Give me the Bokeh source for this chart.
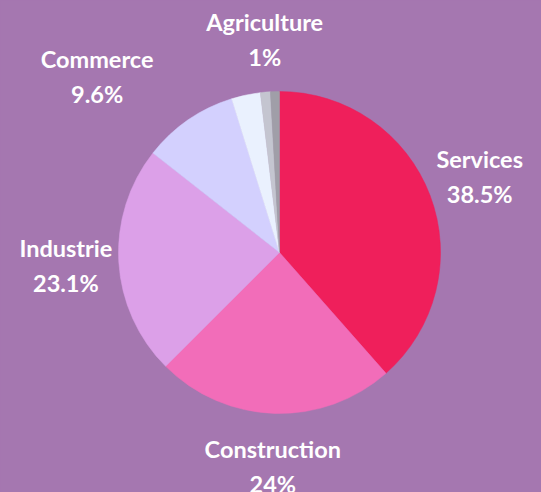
import math
from bokeh.plotting import figure
from bokeh.models import Range1d, ColumnDataSource
from bokeh.core.properties import value
from bokeh.embed import file_html
from bokeh.resources import INLINE

# data
sectors = ["Services", "Construction", "Industrie", "Commerce", "Autre 1", "Agriculture", "Autre 2"]
shares = [38.5, 24.0, 23.1, 9.6, 2.9, 1.0, 0.9]
show_label = [True, True, True, True, False, True, False]
value_labels = ["38.5%", "24%", "23.1%", "9.6%", "2.9%", "1%", "0.9%"]
colors = ["#ef1f5b", "#f26db9", "#dca0e8", "#d3d0fe", "#eaf1fe", "#c4c5d0", "#a09ea8"]

BG = "#a577b0"
W, H = 541, 492
CX, CY = 279, H - 252
R = 161
LABEL_R = 214
LINE_GAP = 17.5
label_dx = {"Commerce": -61, "Agriculture": 4}

p = figure(width=W, height=H, output_backend="svg", toolbar_location=None,
           x_range=Range1d(0, W), y_range=Range1d(0, H),
           background_fill_color=BG, border_fill_color=BG, outline_line_color=None,
           min_border=0)
p.axis.visible = False
p.grid.visible = False

total = sum(shares)
starts, ends = [], []
cum = 0.0
for s in shares:
    starts.append(math.pi / 2 - 2 * math.pi * cum / total)
    cum += s
    ends.append(math.pi / 2 - 2 * math.pi * cum / total)

src = ColumnDataSource(dict(x=[CX] * len(shares), y=[CY] * len(shares),
                            start=starts, end=ends, color=colors))
p.wedge(x="x", y="y", radius=R, start_angle="start", end_angle="end",
        direction="clock", fill_color="color", line_color="color", line_width=0.5,
        source=src)

nx, ny, vx, vy, nt, vt = [], [], [], [], [], []
for i, name in enumerate(sectors):
    if not show_label[i]:
        continue
    mid = (starts[i] + ends[i]) / 2
    lx = CX + LABEL_R * math.cos(mid) + label_dx.get(name, 0)
    ly = CY + LABEL_R * math.sin(mid)
    nx.append(lx); ny.append(ly + LINE_GAP); nt.append(name)
    vx.append(lx); vy.append(ly - LINE_GAP); vt.append(value_labels[i])

for xs, ys, ts in ((nx, ny, nt), (vx, vy, vt)):
    p.text(x=xs, y=ys, text=ts, text_font=value("Lato"), text_font_style="bold",
           text_font_size="23.5px", text_color="white", text_align="center",
           text_baseline="middle")

html = file_html(p, INLINE)
html = html.replace("<head>", "<head><style>html,body{margin:0;padding:0;background:%s;overflow:hidden}</style>" % BG, 1)
open("out.html", "w").write(html)
